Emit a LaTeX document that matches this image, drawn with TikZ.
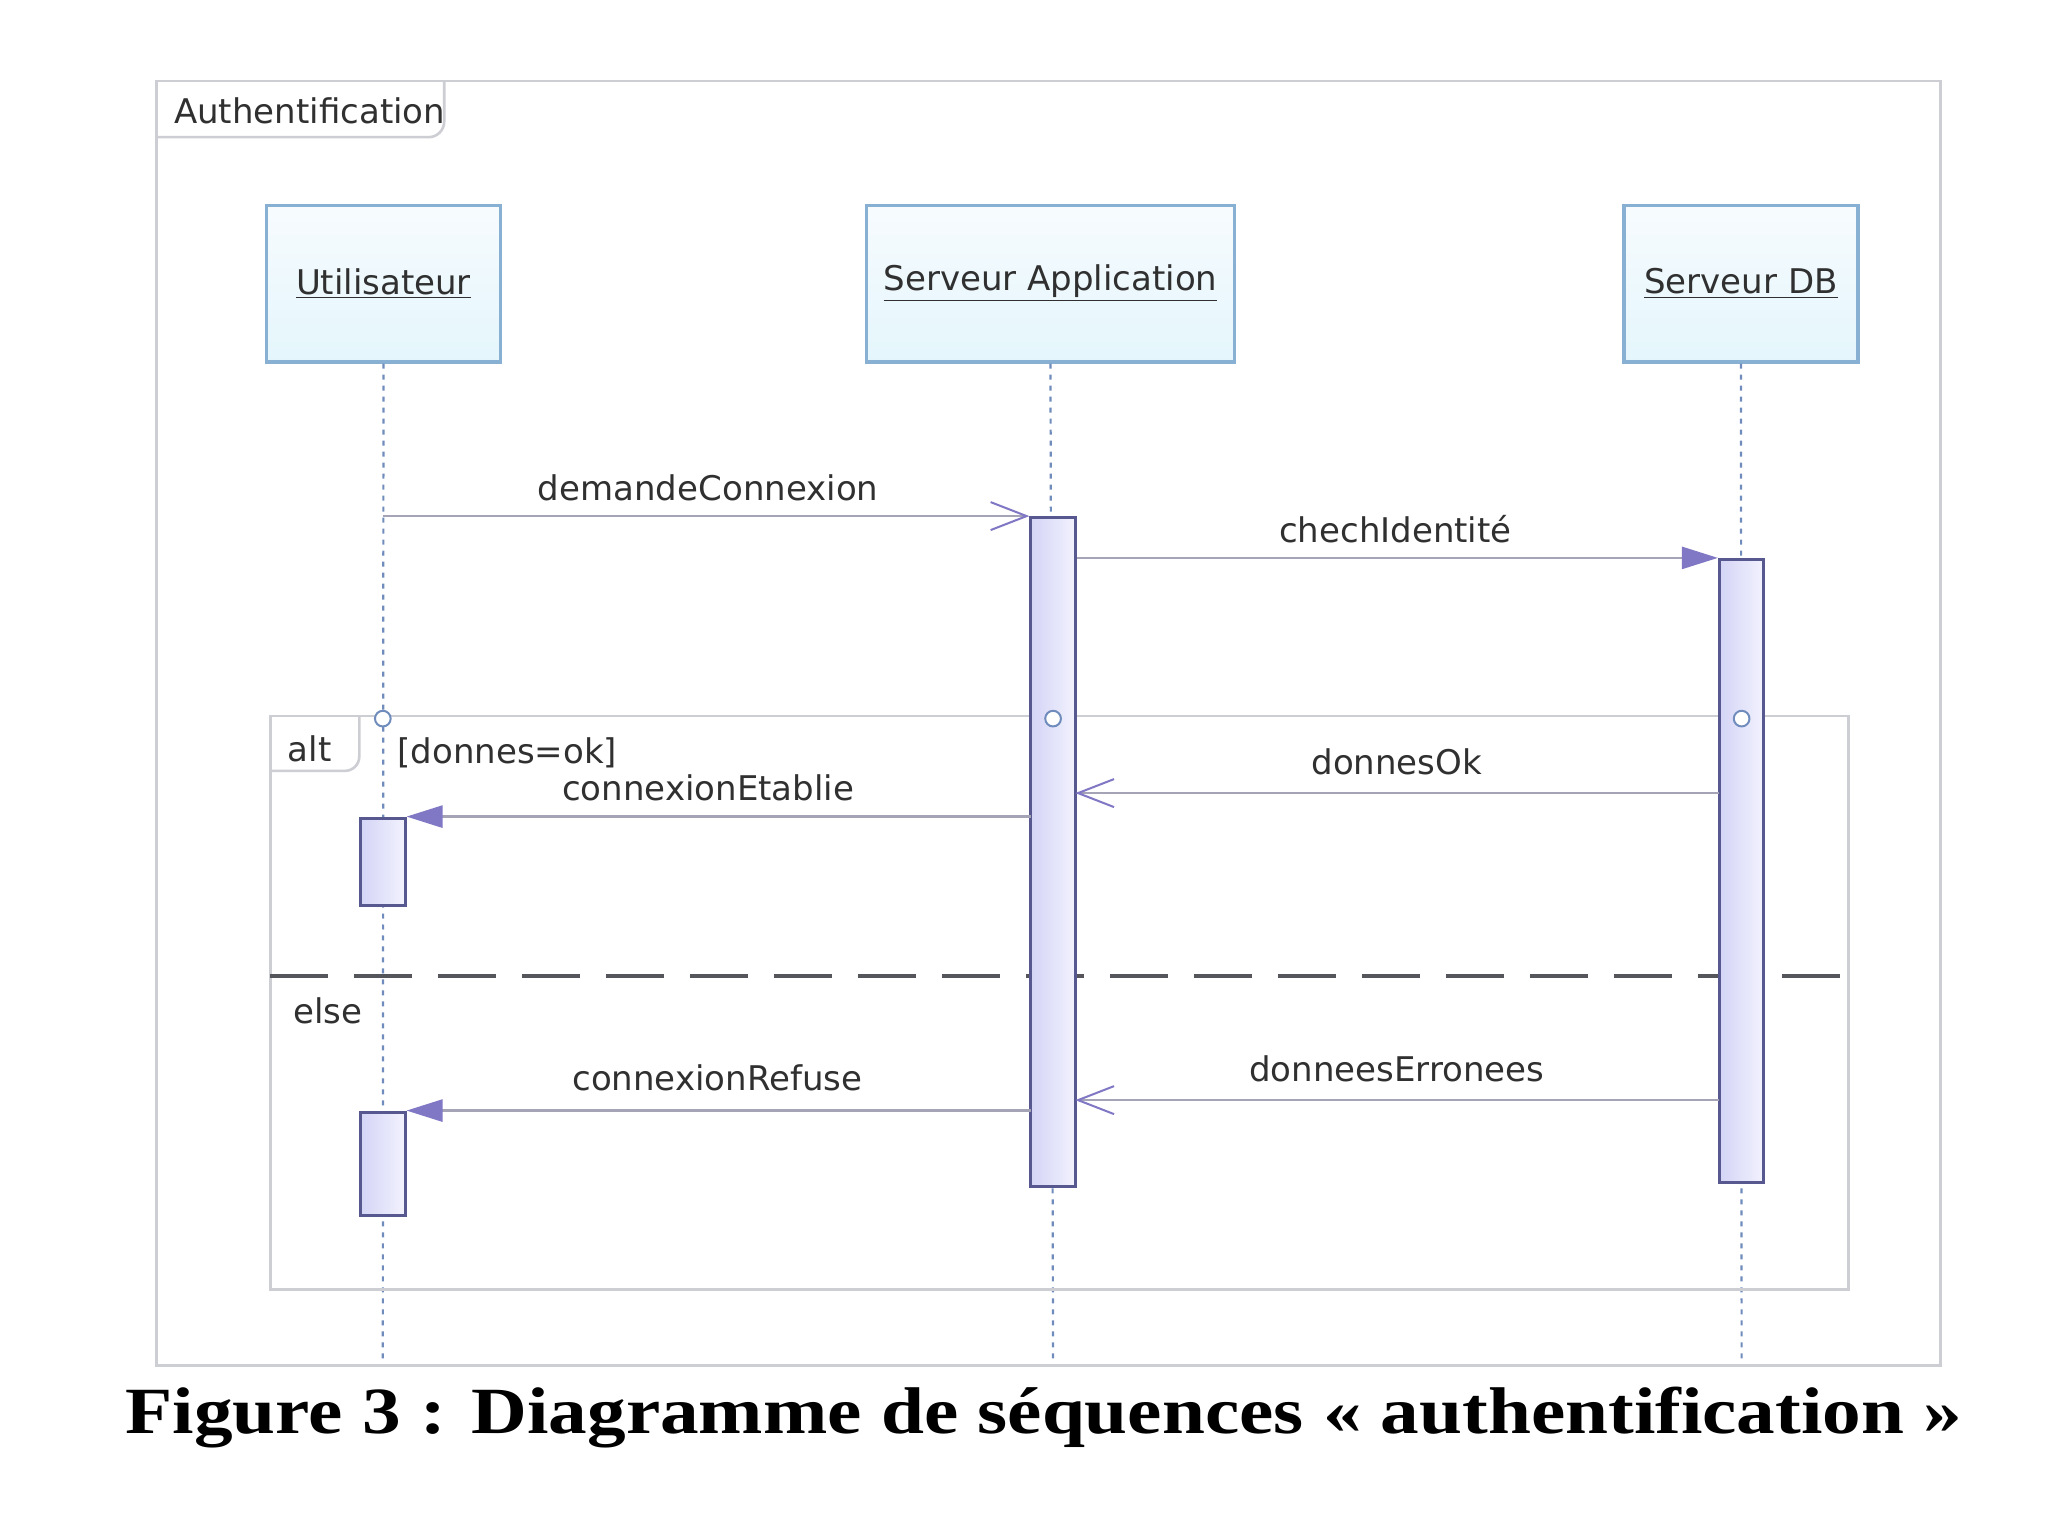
\documentclass[tikz,border=0pt]{standalone}
\usepackage{fontspec}
\setmainfont{Liberation Serif}
\newfontfamily\dejavu{DejaVu Sans}
\usetikzlibrary{arrows.meta}
\definecolor{headborder}{RGB}{135,176,210}
\definecolor{headtop}{RGB}{247,251,254}
\definecolor{headbot}{RGB}{228,246,252}
\definecolor{lifeline}{RGB}{112,140,188}
\definecolor{barborder}{RGB}{88,88,145}
\definecolor{barleft}{RGB}{212,212,246}
\definecolor{barright}{RGB}{242,242,254}
\definecolor{msgline}{RGB}{165,163,182}
\definecolor{tipcol}{RGB}{128,120,196}
\definecolor{framegray}{RGB}{205,205,212}
\definecolor{sepgray}{RGB}{85,85,92}
\definecolor{txt}{RGB}{48,48,48}
\newdimen\ul \ul=0.6533pt
\begin{document}
\begin{tikzpicture}[x=0.6533pt,y=-0.6533pt,
  lbl/.style={font=\dejavu\fontsize{17}{20}\selectfont,text=txt,inner sep=0pt},
  head/.style={draw=headborder,line width=1.6pt,top color=headtop,bottom color=headbot,
    minimum height=120*\ul,inner sep=0pt,font=\dejavu\fontsize{17}{20}\selectfont,text=txt},
  bar/.style={draw=barborder,line width=1.5pt,left color=barleft,right color=barright,
    minimum width=34*\ul,inner sep=0pt,anchor=north},
  life/.style={draw=lifeline,line width=1.1pt,dash pattern=on 2.5pt off 3pt},
  msg/.style={draw=msgline,line width=1.3pt},
  openmsg/.style={msg,-{Straight Barb[length=18pt,width=14pt,line width=1pt,color=tipcol]}},
  fullmsg/.style={msg,-{Triangle[length=18pt,width=11pt,color=tipcol]}},
  frameline/.style={draw=framegray,line width=1.3pt},
  occ/.style={circle,draw=lifeline,fill=white,line width=1pt,minimum size=12*\ul,inner sep=0pt}
]
\useasboundingbox[fill=white] (0,0) rectangle (1567.5,1175.6);

% outer frame
\draw[frameline] (120,62) rectangle (1485,1045);
\draw[frameline] (120,105) -- (328,105) to[out=0,in=-90] (340,93) -- (340,62);
\node[lbl,anchor=west] (title) at (133,85) {Authentification};

% lifeline heads
\node[head,minimum width=179*\ul] (U) at (293.5,217) {\underline{Utilisateur}};
\node[head,minimum width=282*\ul] (SA) at (804,217) {\underline{Serveur Application}};
\node[head,minimum width=179*\ul] (DB) at (1332.5,217) {\underline{Serveur DB}};

% lifelines
\coordinate (Uend) at (293,1040);
\coordinate (SAend) at (806,1040);
\coordinate (DBend) at (1333,1040);
\draw[life] (U.south) -- (Uend);
\draw[life] (SA.south) -- (SAend);
\draw[life] (DB.south) -- (DBend);

% alt frame
\draw[frameline] (207,548) rectangle (1415,987);
\draw[frameline] (207,590) -- (264,590) to[out=0,in=-90] (275,579) -- (275,548);
\node[lbl,anchor=center] (alt) at (237,573) {alt};
\node[lbl,anchor=west] (guard) at (304,576) {[donnes=ok]};
\node[lbl,anchor=center] (else) at (251,774) {else};
\draw[draw=sepgray,line width=1.6pt,dash pattern=on 29pt off 13pt] (207,747) -- (1415,747);

% activation bars
\node[bar,minimum height=512*\ul] (barSA) at (806,395) {};
\node[bar,minimum height=477*\ul] (barDB) at (1333,427) {};
\node[bar,minimum height=67*\ul] (barU1) at (293,625) {};
\node[bar,minimum height=79*\ul] (barU2) at (293,850) {};

% interaction occurrence markers
\node[occ] (o1) at (293,550) {};
\node[occ] (o2) at (806,550) {};
\node[occ] (o3) at (1333,550) {};

% messages
\coordinate (m1s) at (293,395);
\draw[openmsg] (m1s) -- (barSA.north west);
\node[lbl] (l1) at (542,373) {demandeConnexion};

\draw[fullmsg] (barSA.east |- barDB.north west) -- (barDB.north west);
\node[lbl] (l2) at (1068,405) {chechIdentité};

\coordinate (m3s) at (1316,607);
\coordinate (m3e) at (823,607);
\draw[openmsg] (m3s) -- (m3e);
\node[lbl] (l3) at (1069,583) {donnesOk};

\coordinate (m4s) at (789,625);
\draw[fullmsg] (m4s) -- (barU1.north east);
\node[lbl] (l4) at (542,603) {connexionEtablie};

\coordinate (m5s) at (1316,842);
\coordinate (m5e) at (823,842);
\draw[openmsg] (m5s) -- (m5e);
\node[lbl] (l5) at (1069,818) {donneesErronees};

\coordinate (m6s) at (789,850);
\draw[fullmsg] (m6s) -- (barU2.north east);
\node[lbl] (l6) at (549,825) {connexionRefuse};

% caption
\node[font=\bfseries\fontsize{33}{38}\selectfont,inner sep=0pt] (cap) at (799,1085)
  {\scalebox{1.17}[1]{Figure 3 : Diagramme de séquences « authentification »}};
\end{tikzpicture}
\end{document}
